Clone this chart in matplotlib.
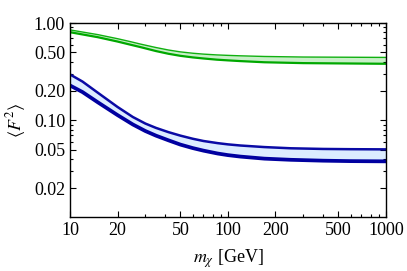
import matplotlib
matplotlib.use("Agg")
import matplotlib.pyplot as plt
from matplotlib.ticker import FixedLocator, FixedFormatter, NullFormatter

plt.rcParams['font.family'] = ['Liberation Serif', 'DejaVu Serif']
plt.rcParams['mathtext.fontset'] = 'stix'

# masses in GeV
m_blue = [10, 12, 15, 20, 25, 30, 35, 42, 50, 60, 70, 86, 100, 120, 170, 250, 400, 600, 1000]
blue_hi = [0.296, 0.25, 0.192, 0.137, 0.108, 0.0925, 0.0835, 0.0755, 0.0695, 0.0645, 0.0612,
           0.0582, 0.0565, 0.055, 0.053, 0.0515, 0.0507, 0.0504, 0.0502]
blue_lo = [0.228, 0.195, 0.153, 0.113, 0.0905, 0.0775, 0.0695, 0.0622, 0.0562, 0.0517, 0.0487,
           0.0455, 0.0438, 0.0423, 0.0403, 0.0392, 0.0384, 0.038, 0.0378]

m_green = [10, 15, 20, 24, 28, 35, 42, 50, 60, 70, 85, 100, 120, 170, 300, 1000]
green_hi = [0.85, 0.76, 0.69, 0.645, 0.607, 0.56, 0.528, 0.505, 0.489, 0.479, 0.47, 0.465,
            0.46, 0.453, 0.447, 0.443]
green_lo = [0.805, 0.715, 0.645, 0.6, 0.565, 0.515, 0.483, 0.46, 0.443, 0.432, 0.42, 0.413,
            0.406, 0.395, 0.387, 0.381]

xticks = [10, 20, 50, 100, 200, 500, 1000]
yticks = [0.02, 0.05, 0.10, 0.20, 0.50, 1.00]
ylabels = ["0.02", "0.05", "0.10", "0.20", "0.50", "1.00"]

fig = plt.figure(figsize=(4.07, 2.71), dpi=100)
ax = fig.add_axes([0.172, 0.199, 0.776, 0.716])

# green band
ax.fill_between(m_green, green_lo, green_hi, color="#c8f0c8", lw=0)
ax.plot(m_green, green_hi, color="#10b010", lw=1.0)
ax.plot(m_green, green_lo, color="#00a800", lw=1.6)

# blue band
ax.fill_between(m_blue, blue_lo, blue_hi, color="#dcecff", lw=0)
ax.plot(m_blue, blue_hi, color="#0a0aa5", lw=1.8)
ax.plot(m_blue, blue_lo, color="#0000a0", lw=2.7)

ax.set_xscale("log")
ax.set_yscale("log")
ax.set_xlim(10, 1000)
ax.set_ylim(0.0101, 1.0)

ax.xaxis.set_major_locator(FixedLocator(xticks))
ax.xaxis.set_major_formatter(FixedFormatter([str(t) for t in xticks]))
ax.xaxis.set_minor_formatter(NullFormatter())
ax.yaxis.set_major_locator(FixedLocator(yticks))
ax.yaxis.set_major_formatter(FixedFormatter(ylabels))
ax.yaxis.set_minor_formatter(NullFormatter())

ax.tick_params(which="both", direction="in", top=True, right=True, labelsize=13, width=0.8)
ax.tick_params(which="major", length=4)
ax.tick_params(which="minor", length=2)
for s in ax.spines.values():
    s.set_linewidth(1.0)

ax.set_xlabel(r"$m_\chi$ [GeV]", fontsize=13, labelpad=6)
ax.set_ylabel(r"$\langle F^2\rangle$", fontsize=13, labelpad=4)

fig.savefig("out.png", dpi=100)
